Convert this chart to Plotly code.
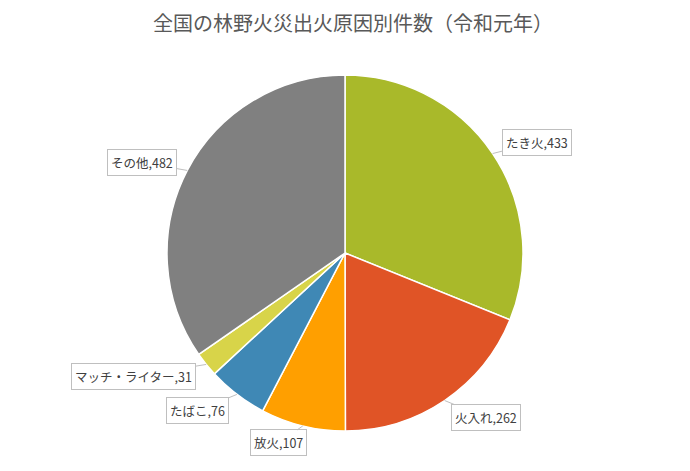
import math
import plotly.graph_objects as go

# --- data ---
causes = ['たき火', '火入れ', '放火', 'たばこ', 'マッチ・ライター', 'その他']
counts = [433, 262, 107, 76, 31, 482]
colors = ['#A9B92A', '#E05426', '#FF9F00', '#3F88B5', '#D8D449', '#808080']

# label box offsets in pixels (box centre relative to slice edge)
offsets = [(44, -11), (41, 17), (-24, 17), (-39, 16), (-73, 12), (-45, -8)]

W, H = 690, 471
M_T, M_B, M_L, M_R = 67, 48, 0, 16

fig = go.Figure(go.Pie(
    labels=causes,
    values=counts,
    sort=False,
    direction='clockwise',
    rotation=0,
    marker=dict(colors=colors, line=dict(color='white', width=1.5)),
    textinfo='none',
    hoverinfo='label+value',
    showlegend=False,
))

# callout labels: anchor on the pie edge at each slice's mid angle
total = sum(counts)
cum = 0
plot_w = W - M_L - M_R
plot_h = H - M_T - M_B
r = 0.5  # radius in paper-height units (pie fills the plot height)
for name, v, (ax, ay) in zip(causes, counts, offsets):
    mid = (cum + v / 2) / total * 2 * math.pi
    cum += v
    px = plot_w / 2 + r * plot_h * math.sin(mid)
    py = 0.5 + r * math.cos(mid)
    fig.add_annotation(
        x=px / plot_w, y=py, xref='paper', yref='paper',
        text=f'{name},{v}',
        showarrow=True, arrowhead=0, arrowwidth=1, arrowcolor='#BFBFBF',
        ax=ax, ay=ay,
        bgcolor='white', bordercolor='#BFBFBF', borderwidth=1, borderpad=3,
        font=dict(size=12.5, color='#404040'),
    )

fig.update_layout(
    width=W, height=H,
    title=dict(text='全国の林野火災出火原因別件数（令和元年）',
               x=0.5, xanchor='center', y=0.966, yanchor='middle',
               font=dict(size=20, color='#595959')),
    font=dict(family='Noto Sans CJK JP, sans-serif'),
    margin=dict(l=M_L, r=M_R, t=M_T, b=M_B),
    paper_bgcolor='white',
)

fig.write_html('out.html')
